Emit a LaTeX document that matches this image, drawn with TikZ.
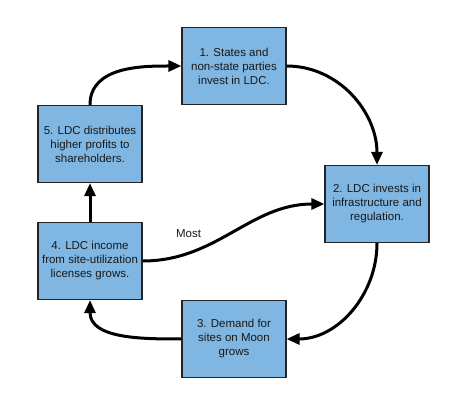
\documentclass[tikz,border=0pt]{standalone}
\usepackage{fontspec}
\setmainfont{Liberation Sans}
\usepackage{tikz}
\usetikzlibrary{arrows.meta}
\definecolor{boxblue}{RGB}{127,182,226}
\definecolor{boxline}{RGB}{35,35,40}

\begin{document}
\begin{tikzpicture}[
    x=1pt, y=1pt,
    every node/.style={font=\fontsize{11.5}{14}\selectfont, text=black!90},
    box/.style={rectangle, draw=boxline, line width=1.2pt, fill=boxblue,
        minimum width=104pt, minimum height=77pt, align=center, inner sep=2pt},
    flow/.style={line width=3pt, -{Triangle[length=13pt, width=11pt]}}
]
\useasboundingbox (0,0) rectangle (450,404);

\node[box] (b1) at (234,338) {1. States and\\non-state parties\\invest in LDC.};
\node[box] (b2) at (377,200) {2. LDC invests in\\infrastructure and\\regulation.};
\node[box] (b3) at (234,65) {3. Demand for\\sites on Moon\\grows};
\node[box] (b4) at (90,143) {4. LDC income\\from site-utilization\\licenses grows.};
\node[box] (b5) at (90,260) {5. LDC distributes\\higher profits to\\shareholders.};

\draw[flow] (b5.north) to[out=90, in=180] (b1.west);
\draw[flow] (b1.east) to[out=0, in=90] (b2.north);
\draw[flow] (b2.south) to[out=-90, in=0] (b3.east);
\draw[flow] (b3.west) to[out=180, in=-90] (b4.south);
\draw[flow] (b4.north) -- (b5.south);
\draw[flow] (b4.east) to[out=0, in=180] node[pos=0.3, above=6pt, xshift=-12pt] (most) {Most} (b2.west);

\end{tikzpicture}
\end{document}
